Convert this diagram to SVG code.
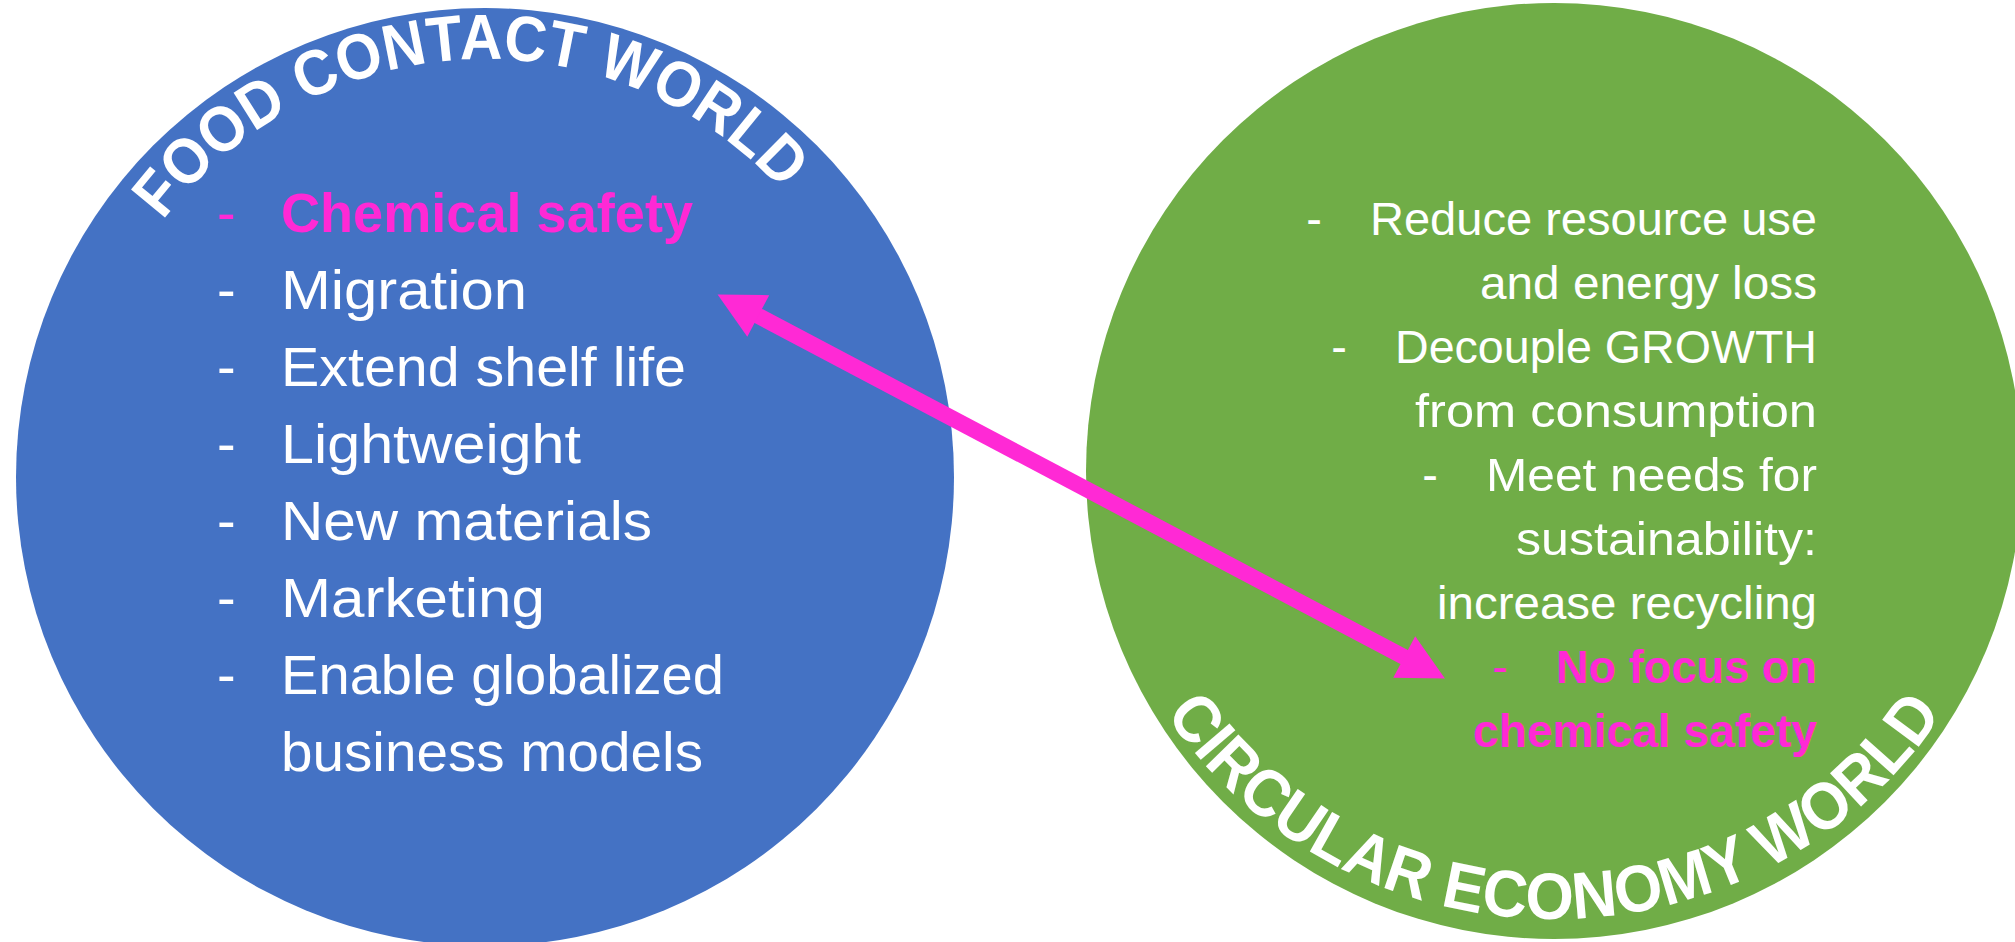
<svg xmlns="http://www.w3.org/2000/svg" width="2015" height="942" viewBox="0 0 2015 942">
  <style>
    .body { font-family: "Liberation Sans", Arial, sans-serif; fill: #FFFFFF; }
    .blue-item { font-size: 56px; }
    .green-item { font-size: 47px; }
    .hot { fill: #FF29D5; font-weight: bold; }
    .dash-hot { fill: #FF29D5; }
    .arc-title { font-family: "Liberation Sans", Arial, sans-serif; font-weight: bold; fill: #FFFFFF; }
    .conn { stroke: #FF29D5; stroke-width: 16; fill: none; }
  </style>
  <defs>
    <marker id="head" markerUnits="userSpaceOnUse" orient="auto-start-reverse" refX="2" refY="0" markerWidth="48" markerHeight="48" viewBox="0 -24 48 48" overflow="visible">
      <path d="M0,-23.5 L46,0 L0,23.5 Z" fill="#FF29D5"/>
    </marker>
    <path id="arcFood" d="M 77,477 A 408 418 0 0 1 893,477"/>
    <path id="arcCircular" d="M 1092,471 A 462 448 0 0 0 2016,471"/>
  </defs>

  <rect x="0" y="0" width="2015" height="942" fill="#FFFFFF"/>

  <g id="node-food-contact-world">
    <circle cx="485" cy="477" r="469" fill="#4472C4"/>
    <text class="arc-title" font-size="64" text-anchor="middle">
      <textPath href="#arcFood" startOffset="629" textLength="708" lengthAdjust="spacingAndGlyphs">FOOD CONTACT WORLD</textPath>
    </text>
    <g class="body blue-item">
      <text class="dash-hot" x="217" y="232">-</text>
      <text class="hot" x="281" y="232" textLength="412" lengthAdjust="spacingAndGlyphs">Chemical safety</text>
      <text x="217" y="309">-</text>
      <text x="281" y="309" textLength="246" lengthAdjust="spacingAndGlyphs">Migration</text>
      <text x="217" y="386">-</text>
      <text x="281" y="386" textLength="405" lengthAdjust="spacingAndGlyphs">Extend shelf life</text>
      <text x="217" y="463">-</text>
      <text x="281" y="463" textLength="300" lengthAdjust="spacingAndGlyphs">Lightweight</text>
      <text x="217" y="540">-</text>
      <text x="281" y="540" textLength="371" lengthAdjust="spacingAndGlyphs">New materials</text>
      <text x="217" y="617">-</text>
      <text x="281" y="617" textLength="264" lengthAdjust="spacingAndGlyphs">Marketing</text>
      <text x="217" y="694">-</text>
      <text x="281" y="694" textLength="443" lengthAdjust="spacingAndGlyphs">Enable globalized</text>
      <text x="281" y="771" textLength="422" lengthAdjust="spacingAndGlyphs">business models</text>
    </g>
  </g>

  <g id="node-circular-economy-world">
    <circle cx="1554" cy="471" r="468" fill="#70AD47"/>
    <text class="arc-title" font-size="66" text-anchor="middle">
      <textPath href="#arcCircular" startOffset="50%" textLength="915" lengthAdjust="spacingAndGlyphs">CIRCULAR ECONOMY WORLD</textPath>
    </text>
    <g class="body green-item" text-anchor="end">
      <text x="1322" y="235">-</text>
      <text x="1817" y="235" textLength="447" lengthAdjust="spacingAndGlyphs">Reduce resource use</text>
      <text x="1817" y="299" textLength="337" lengthAdjust="spacingAndGlyphs">and energy loss</text>
      <text x="1347" y="363">-</text>
      <text x="1817" y="363" textLength="422" lengthAdjust="spacingAndGlyphs">Decouple GROWTH</text>
      <text x="1817" y="427" textLength="402" lengthAdjust="spacingAndGlyphs">from consumption</text>
      <text x="1438" y="491">-</text>
      <text x="1817" y="491" textLength="331" lengthAdjust="spacingAndGlyphs">Meet needs for</text>
      <text x="1817" y="555" textLength="301" lengthAdjust="spacingAndGlyphs">sustainability:</text>
      <text x="1817" y="619" textLength="380" lengthAdjust="spacingAndGlyphs">increase recycling</text>
      <text class="dash-hot" x="1508" y="683">-</text>
      <text class="hot" x="1817" y="683" textLength="261" lengthAdjust="spacingAndGlyphs">No focus on</text>
      <text class="hot" x="1817" y="747" textLength="344" lengthAdjust="spacingAndGlyphs">chemical safety</text>
    </g>
  </g>

  <g id="connectors">
    <line class="conn" x1="756.5" y1="315" x2="1406" y2="658" marker-start="url(#head)" marker-end="url(#head)"/>
  </g>
</svg>
